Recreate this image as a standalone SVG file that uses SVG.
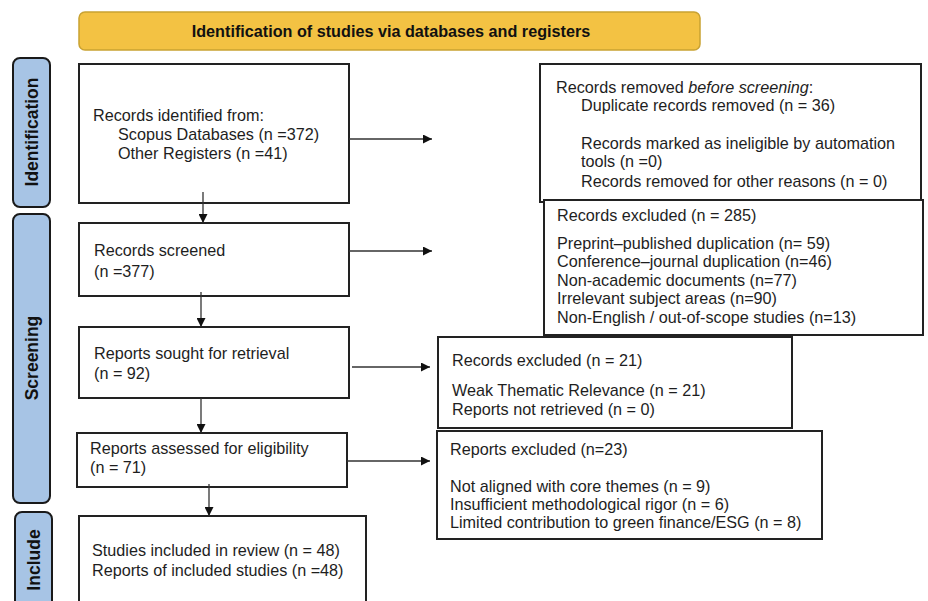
<svg xmlns="http://www.w3.org/2000/svg" width="928" height="601" viewBox="0 0 928 601">
<defs>
<marker id="ah" viewBox="0 0 10 10" refX="10" refY="5" markerWidth="9" markerHeight="9" markerUnits="userSpaceOnUse" orient="auto"><path d="M0,0 L10,5 L0,10 z" fill="#111"/></marker>
<style>
.box{fill:#fff;stroke:#222;stroke-width:2}
.side{fill:#a7c4e5;stroke:#1a1a1a;stroke-width:2}
.t{font-family:"Liberation Sans",Arial,sans-serif;font-size:16.2px;fill:#1e1e1e}
.b{font-family:"Liberation Sans",Arial,sans-serif;font-size:16.2px;font-weight:bold;fill:#111}
.s{font-family:"Liberation Sans",Arial,sans-serif;font-size:17.5px;font-weight:bold;fill:#111}
.c{stroke:#333;stroke-width:1.3;fill:none;marker-end:url(#ah)}
</style>
</defs>
<rect width="928" height="601" fill="#fff"/>
<g id="banner"><rect x="79" y="12" width="621" height="38" rx="6" fill="#f3c243" stroke="#c9a232" stroke-width="1.5"/><text class="b" x="391" y="37" text-anchor="middle">Identification of studies via databases and registers</text></g>
<g id="side-identification"><rect class="side" x="13" y="58" width="37" height="149" rx="7"/><text class="s" transform="translate(38,132) rotate(-90)" text-anchor="middle">Identification</text></g>
<g id="side-screening"><rect class="side" x="13" y="214" width="37" height="289" rx="7"/><text class="s" transform="translate(38,358) rotate(-90)" text-anchor="middle">Screening</text></g>
<g id="side-include"><rect class="side" x="15" y="512" width="37" height="110" rx="7"/><text class="s" transform="translate(40,560) rotate(-90)" text-anchor="middle">Include</text></g>
<g id="identified"><rect class="box" x="79" y="64" width="270" height="139"/><text class="t" x="93" y="121">Records identified from:</text><text class="t" x="118" y="140">Scopus Databases (n =372)</text><text class="t" x="118" y="159">Other Registers (n =41)</text></g>
<g id="screened"><rect class="box" x="79" y="223" width="270" height="73"/><text class="t" x="94" y="256">Records screened</text><text class="t" x="94" y="277">(n =377)</text></g>
<g id="sought"><rect class="box" x="79" y="327" width="270" height="71"/><text class="t" x="94" y="359">Reports sought for retrieval</text><text class="t" x="94" y="379">(n = 92)</text></g>
<g id="assessed"><rect class="box" x="77" y="433" width="270" height="54"/><text class="t" x="90" y="454">Reports assessed for eligibility</text><text class="t" x="90" y="473">(n = 71)</text></g>
<g id="included"><rect class="box" x="79" y="516" width="287" height="100"/><text class="t" x="92" y="556">Studies included in review (n = 48)</text><text class="t" x="92" y="576">Reports of included studies (n =48)</text></g>
<g id="removed"><rect class="box" x="540" y="64" width="381" height="138"/><text class="t" x="556" y="93">Records removed <tspan font-style="italic">before screening</tspan>:</text><text class="t" x="581" y="111">Duplicate records removed (n = 36)</text><text class="t" x="581" y="149">Records marked as ineligible by automation</text><text class="t" x="581" y="167">tools (n =0)</text><text class="t" x="581" y="187">Records removed for other reasons (n = 0)</text></g>
<g id="excluded285"><rect class="box" x="544" y="200" width="379" height="135"/><text class="t" x="557" y="221">Records excluded (n = 285)</text><text class="t" x="557" y="249">Preprint–published duplication (n= 59)</text><text class="t" x="557" y="267">Conference–journal duplication (n=46)</text><text class="t" x="557" y="286">Non-academic documents (n=77)</text><text class="t" x="557" y="304">Irrelevant subject areas (n=90)</text><text class="t" x="557" y="323">Non-English / out-of-scope studies (n=13)</text></g>
<g id="excluded21"><rect class="box" x="438" y="337" width="354" height="91"/><text class="t" x="452" y="366">Records excluded (n = 21)</text><text class="t" x="452" y="396">Weak Thematic Relevance (n = 21)</text><text class="t" x="452" y="415">Reports not retrieved (n = 0)</text></g>
<g id="excluded23"><rect class="box" x="437" y="431" width="385" height="108"/><text class="t" x="450" y="455">Reports excluded (n=23)</text><text class="t" x="450" y="492">Not aligned with core themes (n = 9)</text><text class="t" x="450" y="510">Insufficient methodological rigor (n = 6)</text><text class="t" x="450" y="528">Limited contribution to green finance/ESG (n = 8)</text></g>
<g id="connectors">
<path class="c" d="M203,192 V223"/>
<path class="c" d="M201,292 V327"/>
<path class="c" d="M201,398 V433"/>
<path class="c" d="M209,484 V516"/>
<path class="c" d="M349,139 H432"/>
<path class="c" d="M349,251 H432"/>
<path class="c" d="M352,367 H430"/>
<path class="c" d="M347,461 H430"/>
</g>
</svg>
